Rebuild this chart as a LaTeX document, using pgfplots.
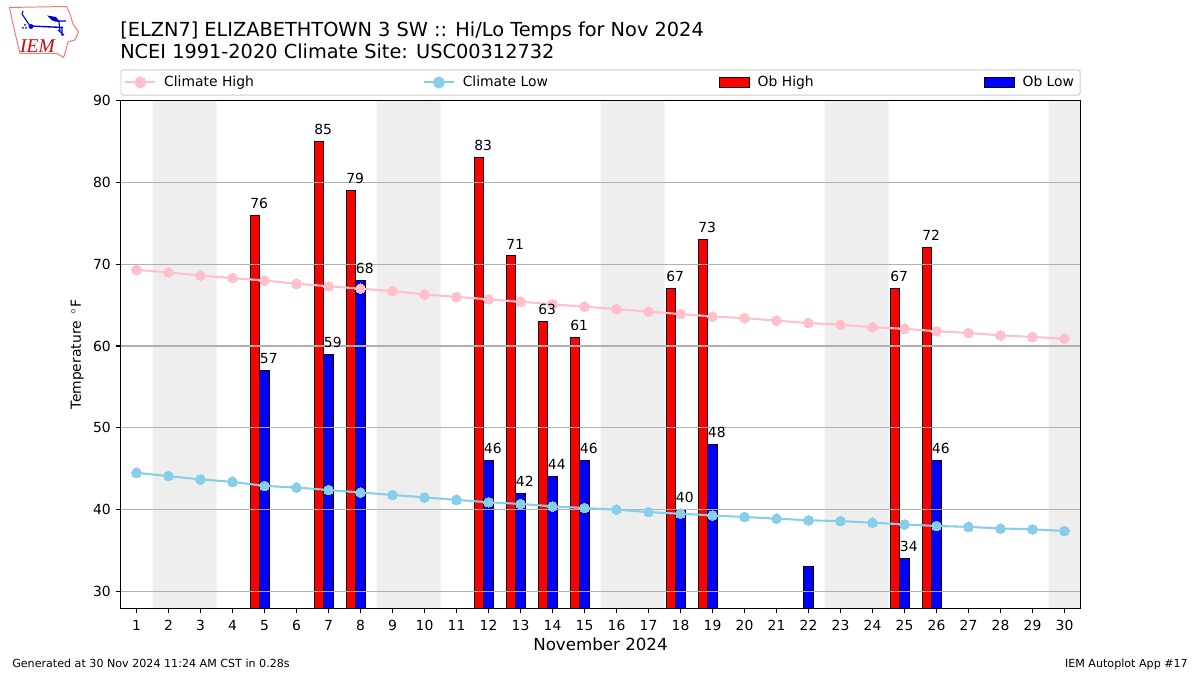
\documentclass[border=0pt]{standalone}
\usepackage{fontspec}
\setmainfont{DejaVu Sans}
\newfontfamily\logofont{Liberation Serif}
\usepackage{pgfplots}
\pgfplotsset{compat=1.18}
\definecolor{climhi}{HTML}{FFC0CB}
\definecolor{climlo}{HTML}{87CEEB}
\definecolor{band}{HTML}{EEEEEE}
\definecolor{gridc}{HTML}{B0B0B0}
\pgfplotsset{
  hilegend/.style={legend image code/.code={\draw[climhi,line width=1.5pt] (0pt,0pt)--(21.6pt,0pt);\fill[climhi] (10.8pt,0pt) circle (3.5pt);}},
  lolegend/.style={legend image code/.code={\draw[climlo,line width=1.5pt] (0pt,0pt)--(21.6pt,0pt);\fill[climlo] (10.8pt,0pt) circle (3.5pt);}},
  redlegend/.style={legend image code/.code={\draw[sharp corners,fill=red,draw=black,line width=0.72pt] (0pt,-3.5pt) rectangle (21.6pt,3.5pt);}},
  bluelegend/.style={legend image code/.code={\draw[sharp corners,fill=blue,draw=black,line width=0.72pt] (0pt,-3.5pt) rectangle (21.6pt,3.5pt);}},
}
\begin{document}
\begin{tikzpicture}
\path (0pt,0pt) rectangle (864pt,486pt);
% logo (coordinates in pixels scaled by .72, y flipped)
\begin{scope}[x=0.72pt,y=-0.72pt,yshift=486pt]
\draw[red!55!white,line width=0.7pt,fill=white] (9.5,7.5)--(66.5,6.5)--(70,14)--(73,24)--(78.5,32)--(75,40)--(68,42)--(66,50)--(63.5,57.5)--(57,53.5)--(20,53.5)--(16,37)--(13,24)--cycle;
\draw[blue!85!black,line width=1pt] (30,26)--(63,27.5);
\draw[blue!85!black,line width=0.8pt] (30,26)--(22,14)(22,14)--(23,11);
\fill[blue!85!black] (31,26.5) circle (2.4);
\fill[blue!85!black] (47,15.5)--(56,17)--(60,22)--(52,20.5)--cycle;
\draw[blue!85!black,line width=0.8pt] (55,21)--(66,21)(59,22)--(60,31)(58,30)--(64,35)(62,28)--(62,36);
\fill[blue!85!black] (23,28) circle (1)(26,28) circle (1)(25,25) circle (1);
\node[text=red!85!black,font=\logofont\itshape\fontsize{14}{14}\selectfont,anchor=center,inner sep=0] at (37.5,46) {IEM};
\end{scope}
% titles and footers
\node[anchor=base west,inner sep=0,font=\fontsize{13.92}{14}\selectfont] at (86.4pt,459.7pt) {[ELZN7] ELIZABETHTOWN 3 SW :: Hi/Lo Temps for Nov 2024};
\node[anchor=base west,inner sep=0,font=\fontsize{13.92}{14}\selectfont] at (86.4pt,443.9pt) {NCEI 1991-2020 Climate Site: USC00312732};
\node[anchor=base west,inner sep=0,font=\fontsize{8}{8}\selectfont] at (8.64pt,5.6pt) {Generated at 30 Nov 2024 11:24 AM CST in 0.28s};
\node[anchor=base east,inner sep=0,font=\fontsize{8}{8}\selectfont] at (855.4pt,5.6pt) {IEM Autoplot App \#17};
\begin{axis}[
  at={(86.76pt,47.88pt)},anchor=south west,
  scale only axis,width=691.2pt,height=365.76pt,
  set layers,
  xmin=0.5,xmax=30.5,ymin=27.92,ymax=90,
  xtick={1,...,30},ytick={30,40,50,60,70,80,90},
  xtick pos=bottom,ytick pos=left,tick align=outside,
  major tick length=3.5pt,
  tick style={black,line width=0.8pt},
  axis line style={line width=0.8pt},
  ymajorgrids,
  grid style={gridc,line width=0.8pt},
  /pgf/number format/assume math mode=true,
  tick label style={font=\fontsize{10}{10}\selectfont},
  xticklabel style={yshift=-1.4pt},
  xlabel={November 2024},
  xlabel style={font=\fontsize{12}{12}\selectfont,at={(0.5,0)},anchor=base,yshift=-30.4pt},
  ylabel={Temperature\ \,${}^\circ$F},
  ylabel style={font=\fontsize{10}{10}\selectfont,at={(0,0.5)},anchor=base,yshift=28.5pt},
  legend columns=4,
  legend cell align=left,
  legend style={at={(0,1.0098)},anchor=south west,
    draw=black!20,rounded corners=1.5pt,line width=0.7pt,
    font=\fontsize{10}{10}\selectfont,
    inner xsep=2.4pt,inner ysep=2.5pt,
    /tikz/every odd column/.append style={column sep=3.6pt},
    /tikz/column 2/.append style={column sep=119.64pt},
    /tikz/column 4/.append style={column sep=121.08pt},
    /tikz/column 6/.append style={column sep=120.4pt}},
]
\addplot[fill=band,draw=none,on layer=axis background,forget plot] coordinates {(1.5,27.9)(3.5,27.9)(3.5,90)(1.5,90)(1.5,27.9)};
\addplot[fill=band,draw=none,on layer=axis background,forget plot] coordinates {(8.5,27.9)(10.5,27.9)(10.5,90)(8.5,90)(8.5,27.9)};
\addplot[fill=band,draw=none,on layer=axis background,forget plot] coordinates {(15.5,27.9)(17.5,27.9)(17.5,90)(15.5,90)(15.5,27.9)};
\addplot[fill=band,draw=none,on layer=axis background,forget plot] coordinates {(22.5,27.9)(24.5,27.9)(24.5,90)(22.5,90)(22.5,27.9)};
\addplot[fill=band,draw=none,on layer=axis background,forget plot] coordinates {(29.5,27.9)(30.5,27.9)(30.5,90)(29.5,90)(29.5,27.9)};

\addplot[climhi,line width=1.5pt,mark=*,mark size=3.5pt,mark options={fill=climhi,draw=climhi,line width=0pt},hilegend]
 coordinates {(1,69.3)(2,69.0)(3,68.6)(4,68.3)(5,68.0)(6,67.6)(7,67.3)(8,67.0)(9,66.7)(10,66.3)(11,66.0)(12,65.7)(13,65.4)(14,65.1)(15,64.8)(16,64.5)(17,64.2)(18,63.9)(19,63.6)(20,63.4)(21,63.1)(22,62.8)(23,62.6)(24,62.3)(25,62.1)(26,61.8)(27,61.6)(28,61.3)(29,61.1)(30,60.9)};
\addlegendentry{Climate High}
\addplot[climlo,line width=1.5pt,mark=*,mark size=3.5pt,mark options={fill=climlo,draw=climlo,line width=0pt},lolegend]
 coordinates {(1,44.5)(2,44.1)(3,43.7)(4,43.4)(5,42.9)(6,42.7)(7,42.4)(8,42.1)(9,41.8)(10,41.5)(11,41.2)(12,40.9)(13,40.7)(14,40.4)(15,40.2)(16,40.0)(17,39.7)(18,39.5)(19,39.3)(20,39.1)(21,38.9)(22,38.7)(23,38.6)(24,38.4)(25,38.2)(26,38.0)(27,37.9)(28,37.7)(29,37.6)(30,37.4)};
\addlegendentry{Climate Low}
\addplot[ybar,bar shift=0pt,bar width=6.912pt,fill=red,draw=black,line width=0.72pt,on layer=axis background,redlegend]
 coordinates {(4.7,76)(6.7,85)(7.7,79)(11.7,83)(12.7,71)(13.7,63)(14.7,61)(17.7,67)(18.7,73)(24.7,67)(25.7,72)};
\addlegendentry{Ob High}
\addplot[ybar,bar shift=0pt,bar width=6.912pt,fill=blue,draw=black,line width=0.72pt,on layer=axis background,bluelegend]
 coordinates {(5,57)(7,59)(8,68)(12,46)(13,42)(14,44)(15,46)(18,40)(19,48)(22,33)(25,34)(26,46)};
\addlegendentry{Ob Low}
% value labels
\addplot[draw=none,mark=none,forget plot,nodes near coords,point meta=y,
  every node near coord/.append style={anchor=base west,inner sep=0pt,yshift=5pt,font=\fontsize{10}{10}\selectfont,text=black},
  /pgf/number format/assume math mode=true]
 coordinates {(4.55,76)(6.55,85)(7.55,79)(11.55,83)(12.55,71)(13.55,63)(14.55,61)(17.55,67)(18.55,73)(24.55,67)(25.55,72)};
\addplot[draw=none,mark=none,forget plot,nodes near coords,point meta=y,
  every node near coord/.append style={anchor=base west,inner sep=0pt,yshift=5pt,font=\fontsize{10}{10}\selectfont,text=black},
  /pgf/number format/assume math mode=true]
 coordinates {(4.85,57)(6.85,59)(7.85,68)(11.85,46)(12.85,42)(13.85,44)(14.85,46)(17.85,40)(18.85,48)(24.85,34)(25.85,46)};
\end{axis}
\end{tikzpicture}
\end{document}
